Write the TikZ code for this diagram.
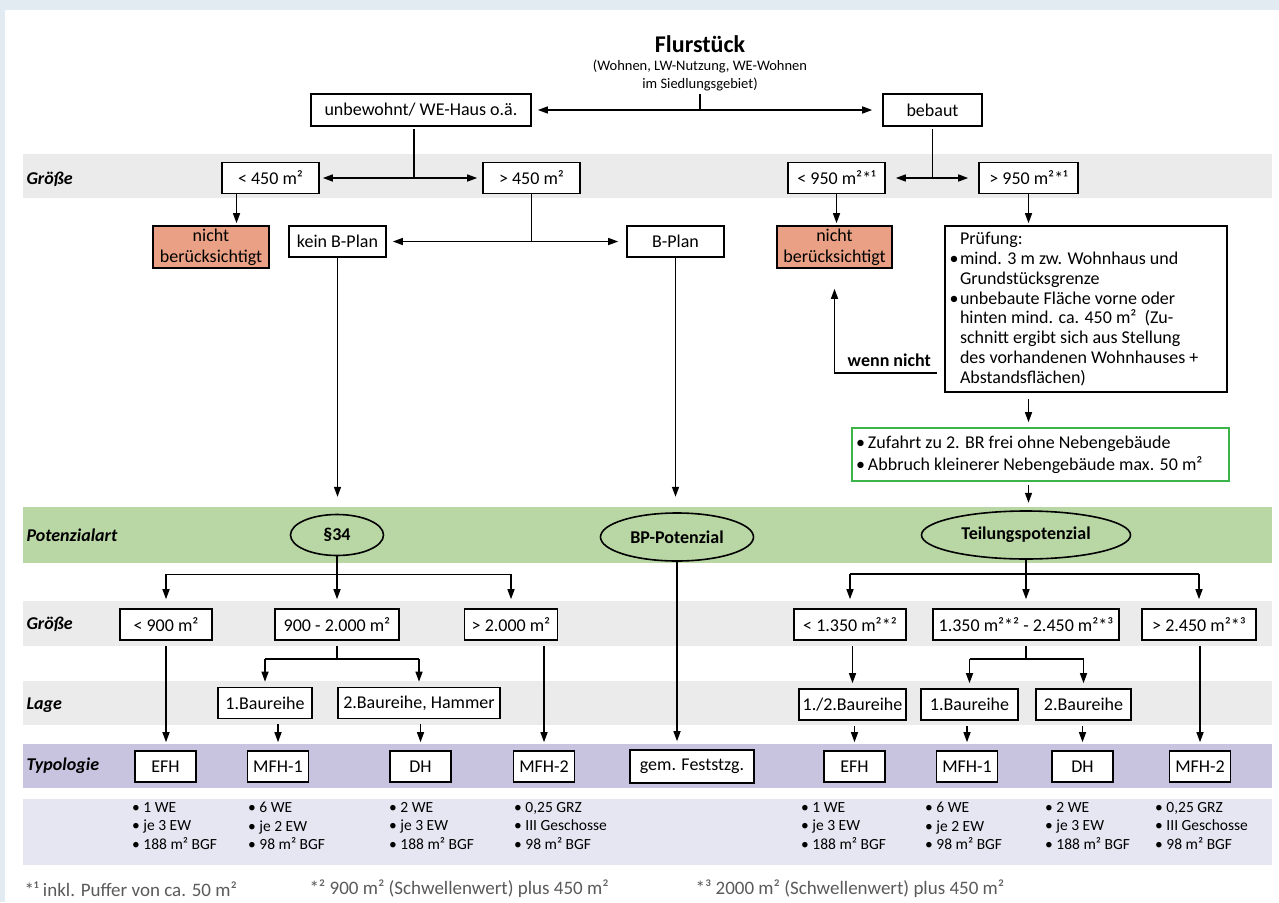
\documentclass[tikz,border=0pt]{standalone}
\usepackage{fontspec}
\setmainfont{Carlito}
\usepackage{xcolor}
\usepackage{tikz}
\usetikzlibrary{shapes.geometric, arrows.meta, positioning}
\definecolor{framebg}{HTML}{E2EAF2}
\definecolor{bandgray}{HTML}{EBEBEB}
\definecolor{bandgreen}{HTML}{B9D6A5}
\definecolor{bandviolet}{HTML}{C8C4E0}
\definecolor{bandlilac}{HTML}{E6E5F2}
\definecolor{rejectfill}{HTML}{E9A084}
\definecolor{checkgreen}{HTML}{3CB44A}
\definecolor{notegray}{HTML}{5A5A5A}
\newcommand{\hangitem}[2]{\leavevmode\llap{•\hspace{#1}}\mbox{#2}}
\newcommand{\plainline}[1]{\leavevmode\mbox{#1}}
\tikzset{
  flowbox/.style={
    rectangle, draw, line width=1.6pt, fill=white, inner sep=2pt,
    minimum height=31pt, minimum width=97pt, font=\fontsize{18}{20}\selectfont
  },
  rejectbox/.style={
    flowbox, fill=rejectfill, minimum width=116pt, minimum height=42pt,
    align=center, font=\fontsize{18}{21}\selectfont
  },
  typbox/.style={
    flowbox, minimum width=61pt
  },
  potenzial/.style={
    ellipse, draw, line width=1.6pt, inner sep=0pt, font=\bfseries\fontsize{18}{20}\selectfont
  },
  band/.style={
    rectangle, inner sep=0pt, minimum width=1249pt, anchor=west
  },
  bandlabel/.style={
    anchor=west, font=\bfseries\itshape\fontsize{18}{20}\selectfont
  },
  factlist/.style={
    anchor=north west, align=left, inner sep=0pt, font=\fontsize{15.5}{18.5}\selectfont
  },
  footnote/.style={
    anchor=west, text=notegray, font=\fontsize{19}{21}\selectfont
  },
  flowline/.style={
    line width=1.4pt
  },
  flowarrow/.style={
    line width=1.4pt, ->, >={Stealth[length=10pt, width=7pt, inset=0pt]}
  }
}
\begin{document}
\begin{tikzpicture}[x=1pt, y=1pt]
  \useasboundingbox (0,0) rectangle (1279,-902);
  \fill[framebg] (0,0) rectangle (1279,-902);
  \fill[white] (5,-10) rectangle (1279,-902);

  \node[band, fill=bandgray, minimum height=44pt] (bandsize1) at (23,-176) {};
  \node[band, fill=bandgreen, minimum height=56pt] (bandpot) at (23,-535) {};
  \node[band, fill=bandgray, minimum height=45pt] (bandsize2) at (23,-623.5) {};
  \node[band, fill=bandgray, minimum height=44pt] (bandlage) at (23,-703) {};
  \node[band, fill=bandviolet, minimum height=44pt] (bandtyp) at (23,-766) {};
  \node[band, fill=bandlilac, minimum height=66pt] (bandfacts) at (23,-832) {};

  \node[bandlabel] (lblsize1) at ([yshift=-3pt]bandsize1.west) {Größe};
  \node[bandlabel] (lblpot) at (bandpot.west) {Potenzialart};
  \node[bandlabel] (lblsize2) at ([yshift=-1pt]bandsize2.west) {Größe};
  \node[bandlabel] (lbllage) at ([yshift=-2pt]bandlage.west) {Lage};
  \node[bandlabel] (lbltyp) at (bandtyp.west) {Typologie};

  \node[font=\bfseries\fontsize{24}{28}\selectfont] (title) at (700,-44) {Flurstück};
  \node[below=0pt of title, align=center, font=\fontsize{14.5}{18}\selectfont] (sub) {(Wohnen, LW-Nutzung, WE-Wohnen\\im Siedlungsgebiet)};

  \node[flowbox, minimum width=220pt, minimum height=32pt] (unbew) at (421,-110) {unbewohnt/ WE-Haus o.ä.};
  \node[flowbox, minimum width=99pt, minimum height=32pt] (bebaut) at (932.5,-110) {bebaut};

  \node[flowbox] (lt450) at (270.5,-178) {< 450 m²};
  \node[flowbox] (gt450) at (531.5,-178) {> 450 m²};
  \node[flowbox] (lt950) at (836.5,-178) {< 950 m²*¹};
  \node[flowbox, minimum width=99pt] (gt950) at (1028.5,-178) {> 950 m²*¹};

  \node[rejectbox] (nb1) at (211,-247) {nicht\\berücksichtigt};
  \node[flowbox] (kein) at (337.5,-241.5) {kein B-Plan};
  \node[flowbox] (bplan) at (675.5,-241.5) {B-Plan};
  \node[rejectbox, minimum width=115pt] (nb2) at (834.5,-247) {nicht\\berücksichtigt};
  \node[flowbox, text width=252pt, inner xsep=15pt, minimum height=166pt, align=flush left, font=\fontsize{18}{19.8}\selectfont] (pruef) at (1086,-309) {\plainline{Prüfung:}\\
    \hangitem{1.5pt}{mind. 3 m zw. Wohnhaus und}\\
    \plainline{Grundstücksgrenze}\\
    \hangitem{1.5pt}{unbebaute Fläche vorne oder}\\
    \plainline{hinten mind. ca. 450 m²~ (Zu-}\\
    \plainline{schnitt ergibt sich aus Stellung}\\
    \plainline{des vorhandenen Wohnhauses +}\\
    \plainline{Abstandsflächen)}};
  \node[flowbox, draw=checkgreen, text width=345pt, inner xsep=16pt, minimum height=53pt, align=flush left, font=\fontsize{18}{22}\selectfont] (check) at (1040.5,-454.5) {\hangitem{3pt}{Zufahrt zu 2. BR frei ohne Nebengebäude}\\
    \hangitem{3pt}{Abbruch kleinerer Nebengebäude max. 50 m²}};
  \node[font=\bfseries\fontsize{18}{20}\selectfont, anchor=base east, inner sep=0pt] (wenn) at (931,-366) {wenn nicht};

  \node[potenzial, minimum width=93pt, minimum height=41pt] (p34) at (337,-535) {§34};
  \node[potenzial, minimum width=153pt, minimum height=48pt] (bpp) at (677,-537) {BP-Potenzial};
  \node[potenzial, minimum width=209pt, minimum height=48pt] (teil) at (1026,-535) {Teilungspotenzial};

  \node[flowbox, minimum width=92pt] (lt900) at (166,-624.5) {< 900 m²};
  \node[flowbox, minimum width=124pt] (m34) at (337,-624.5) {900 - 2.000 m²};
  \node[flowbox, minimum width=93pt] (gt2000) at (511,-624.5) {> 2.000 m²};
  \node[flowbox, minimum width=112pt] (lt1350) at (850,-624.5) {< 1.350 m²*²};
  \node[flowbox, minimum width=186pt] (m1350) at (1026,-624.5) {1.350 m²*² - 2.450 m²*³};
  \node[flowbox, minimum width=114pt] (gt2450) at (1199,-624.5) {> 2.450 m²*³};

  \node[flowbox, minimum width=94pt] (bau1l) at (265,-703) {1.Baureihe};
  \node[flowbox, minimum width=162pt] (bau2l) at (419,-703) {2.Baureihe, Hammer};
  \node[flowbox, minimum width=107pt] (bau12r) at (852.5,-704.5) {1./2.Baureihe};
  \node[flowbox, minimum width=97pt] (bau1r) at (969.5,-704.5) {1.Baureihe};
  \node[flowbox, minimum width=95pt] (bau2r) at (1083.5,-704.5) {2.Baureihe};

  \node[typbox] (efhl) at (165.5,-766.5) {EFH};
  \node[typbox] (mfh1l) at (278,-766.5) {MFH-1};
  \node[typbox] (dhl) at (420.5,-766.5) {DH};
  \node[typbox] (mfh2l) at (544,-766.5) {MFH-2};
  \node[flowbox, minimum width=124pt, minimum height=33pt] (gem) at (692,-766.5) {gem. Feststzg.};
  \node[typbox] (efhr) at (854.5,-766.5) {EFH};
  \node[typbox] (mfh1r) at (967,-766.5) {MFH-1};
  \node[typbox] (dhr) at (1082.5,-766.5) {DH};
  \node[typbox] (mfh2r) at (1200,-766.5) {MFH-2};

  \node[factlist] (factefhl) at (132,-802) {• 1 WE\\• je 3 EW\\• 188 m² BGF};
  \node[factlist] (factmfh1l) at (248,-802) {• 6 WE\\• je 2 EW\\• 98 m² BGF};
  \node[factlist] (factdhl) at (389,-802) {• 2 WE\\• je 3 EW\\• 188 m² BGF};
  \node[factlist] (factmfh2l) at (514,-802) {• 0,25 GRZ\\• III Geschosse\\• 98 m² BGF};
  \node[factlist] (factefhr) at (801,-802) {• 1 WE\\• je 3 EW\\• 188 m² BGF};
  \node[factlist] (factmfh1r) at (925,-802) {• 6 WE\\• je 2 EW\\• 98 m² BGF};
  \node[factlist] (factdhr) at (1045,-802) {• 2 WE\\• je 3 EW\\• 188 m² BGF};
  \node[factlist] (factmfh2r) at (1155,-802) {• 0,25 GRZ\\• III Geschosse\\• 98 m² BGF};

  \node[footnote] (fn1) at (21,-889) {*¹\ inkl. Puffer von ca. 50 m²};
  \node[footnote] (fn2) at (306,-889) {*²\ 900 m² (Schwellenwert) plus 450 m²};
  \node[footnote] (fn3) at (692,-889) {*³\ 2000 m² (Schwellenwert) plus 450 m²};

  \draw[flowline] (sub.south) -- (sub.south |- unbew.east);
  \draw[flowarrow, <->, shorten <=6pt, shorten >=10pt] (unbew) -- (bebaut);

  \coordinate (ustem) at ([xshift=-7pt, yshift=-2pt]unbew.south);
  \draw[flowline] (ustem) -- (ustem |- lt450.east);
  \draw[flowarrow, shorten >=3pt] (ustem |- lt450.east) -- (lt450);
  \draw[flowarrow, shorten >=5pt] (ustem |- lt450.east) -- (gt450);
  \draw[flowline] ([yshift=-2pt]bebaut.south) -- (bebaut.south |- lt950.east);
  \draw[flowarrow, shorten >=10pt] (bebaut.south |- lt950.east) -- (lt950);
  \draw[flowarrow, shorten >=10pt] (bebaut.south |- gt950.east) -- (gt950);

  \coordinate (lstem) at ([xshift=-34pt]lt450.south);
  \draw[flowarrow, shorten >=2pt] (lstem) -- (lstem |- nb1.north);
  \draw[flowarrow, shorten >=2pt] (lt950) -- (lt950 |- nb2.north);
  \draw[flowarrow, shorten >=2pt] (gt950) -- (gt950 |- pruef.north);

  \draw[flowline] (gt450) -- (gt450.south |- kein.east);
  \draw[flowarrow, shorten >=6pt] (gt450.south |- kein.east) -- (kein);
  \draw[flowarrow, shorten >=8pt] (gt450.south |- bplan.east) -- (bplan);
  \draw[flowarrow, shorten >=10pt] (kein) -- (kein |- bandpot.north);
  \draw[flowarrow, shorten >=10pt] (bplan) -- (bplan |- bandpot.north);

  \draw[flowarrow, shorten <=6pt, shorten >=5pt] (gt950 |- pruef.south) -- (gt950 |- check.north);
  \draw[flowarrow, shorten <=3pt, shorten >=4pt] (gt950 |- check.south) -- (gt950 |- bandpot.north);
  \coordinate (wnstart) at (937,-373);
  \draw[flowarrow, shorten >=20pt] (wnstart) -| (nb2.south);

  \draw[flowline] (p34.south) -- ++(0,-18) coordinate (j34);
  \draw[flowline] (j34 -| lt900) -- (j34 -| gt2000);
  \draw[flowarrow, shorten >=9pt] (j34 -| lt900) -- (lt900);
  \draw[flowarrow, shorten >=9pt] (j34) -- (m34);
  \draw[flowarrow, shorten >=9pt] (j34 -| gt2000) -- (gt2000);

  \draw[flowline] ([yshift=-5pt]m34.south) -- ++(0,-13) coordinate (jm34);
  \draw[flowline] (jm34 -| bau1l) -- (jm34 -| bau2l);
  \draw[flowarrow, shorten >=5pt] (jm34 -| bau1l) -- (bau1l);
  \draw[flowarrow, shorten >=5pt] (jm34 -| bau2l) -- (bau2l);

  \draw[flowarrow, shorten <=5pt, shorten >=8pt] (lt900) -- (lt900 |- efhl.north);
  \draw[flowarrow, shorten <=5pt, shorten >=8pt] (mfh1l |- bau1l.south) -- (mfh1l);
  \draw[flowarrow, shorten <=5pt, shorten >=8pt] (dhl |- bau2l.south) -- (dhl);
  \draw[flowarrow, shorten <=5pt, shorten >=8pt] (mfh2l |- gt2000.south) -- (mfh2l);
  \draw[flowarrow, shorten >=8pt] (bpp) -- (bpp |- gem.north);

  \draw[flowline] (teil.south) -- ++(0,-14) coordinate (jteil);
  \draw[flowline] (jteil -| lt1350) -- (jteil -| gt2450);
  \draw[flowarrow, shorten >=9pt] (jteil -| lt1350) -- (lt1350);
  \draw[flowarrow, shorten >=9pt] (jteil) -- (m1350);
  \draw[flowarrow, shorten >=9pt] (jteil -| gt2450) -- (gt2450);

  \draw[flowarrow, shorten <=5pt, shorten >=5pt] (bau12r |- lt1350.south) -- (bau12r);
  \draw[flowline] ([yshift=-5pt]m1350.south) -- ++(0,-13) coordinate (jm1350);
  \draw[flowline] (jm1350 -| bau1r) -- (jm1350 -| bau2r);
  \draw[flowarrow, shorten >=5pt] (jm1350 -| bau1r) -- (bau1r);
  \draw[flowarrow, shorten >=5pt] (jm1350 -| bau2r) -- (bau2r);
  \draw[flowarrow, shorten <=5pt, shorten >=8pt] (efhr |- bau12r.south) -- (efhr);
  \draw[flowarrow, shorten <=5pt, shorten >=8pt] (mfh1r |- bau1r.south) -- (mfh1r);
  \draw[flowarrow, shorten <=5pt, shorten >=8pt] (dhr |- bau2r.south) -- (dhr);
  \draw[flowarrow, shorten <=5pt, shorten >=8pt] (mfh2r |- gt2450.south) -- (mfh2r);
\end{tikzpicture}
\end{document}
